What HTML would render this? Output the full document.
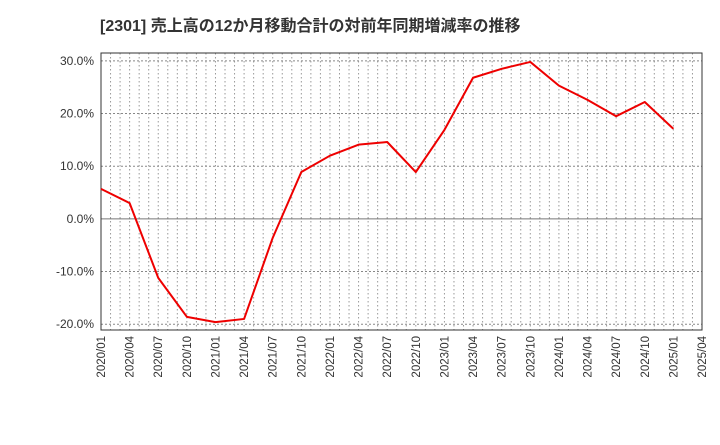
<!DOCTYPE html>
<html><head><meta charset="utf-8"><style>
body{margin:0;background:#fff;}
svg text{font-family:"Liberation Sans","Noto Sans CJK JP",sans-serif;}
</style></head><body>
<svg id="c" width="720" height="440" xmlns="http://www.w3.org/2000/svg">
<text x="100" y="31" font-size="16" font-weight="bold" fill="#333">[2301]  売上高の12か月移動合計の対前年同期増減率の推移</text>
</svg>
<script>
const categories=["2020/01","2020/04","2020/07","2020/10","2021/01","2021/04","2021/07","2021/10","2022/01","2022/04","2022/07","2022/10","2023/01","2023/04","2023/07","2023/10","2024/01","2024/04","2024/07","2024/10","2025/01"];
const values=[5.7,3.0,-11.2,-18.6,-19.6,-19.0,-3.6,8.9,12.0,14.1,14.6,8.9,16.9,26.8,28.5,29.8,25.3,22.6,19.5,22.2,17.1];
const xTickLabels=["2020/01","2020/04","2020/07","2020/10","2021/01","2021/04","2021/07","2021/10","2022/01","2022/04","2022/07","2022/10","2023/01","2023/04","2023/07","2023/10","2024/01","2024/04","2024/07","2024/10","2025/01","2025/04"];
const yTicks=[-20,-10,0,10,20,30];
const NS="http://www.w3.org/2000/svg";
const svg=document.getElementById('c');
const L=101,R=702,T=53,B=330,yMin=-21.1,yMax=31.5,nQ=21;
const x=i=>L+(R-L)*i/nQ;
const y=v=>B-(v-yMin)/(yMax-yMin)*(B-T);
function mk(t,a){const e=document.createElementNS(NS,t);for(const k in a)e.setAttribute(k,a[k]);svg.appendChild(e);return e;}
for(let m=1;m<nQ*3;m++){
 const gx=L+(R-L)*m/(nQ*3);
 const g=mk('line',{x1:gx,x2:gx,y1:T,y2:B,stroke:'#999','stroke-width':1,'stroke-dasharray':'1.5,2.5'});
 
 
}
yTicks.forEach(v=>{
 const g=mk('line',{x1:L,x2:R,y1:y(v),y2:y(v),stroke:v===0?'#777':'#888','stroke-width':1,'stroke-dasharray':v===0?'none':'2,2'});
 
 
 const t=mk('text',{x:L-7,y:y(v)+4,'font-size':12,fill:'#333','text-anchor':'end'});
 t.textContent=v.toFixed(1)+'%';
 
 
});
xTickLabels.forEach((s,i)=>{
 const t=mk('text',{transform:`translate(${x(i)+4},${B+6}) rotate(-90)`,'font-size':11.5,fill:'#333','text-anchor':'end'});
 t.textContent=s;
 
 
});
const fr=mk('rect',{x:L,y:T,width:R-L,height:B-T,fill:'none',stroke:'#333','stroke-width':1});


const p=mk('polyline',{points:values.map((v,i)=>x(i)+','+y(v)).join(' '),fill:'none',stroke:'#ee0000','stroke-width':2,'stroke-linejoin':'round'});


</script>
</body></html>
